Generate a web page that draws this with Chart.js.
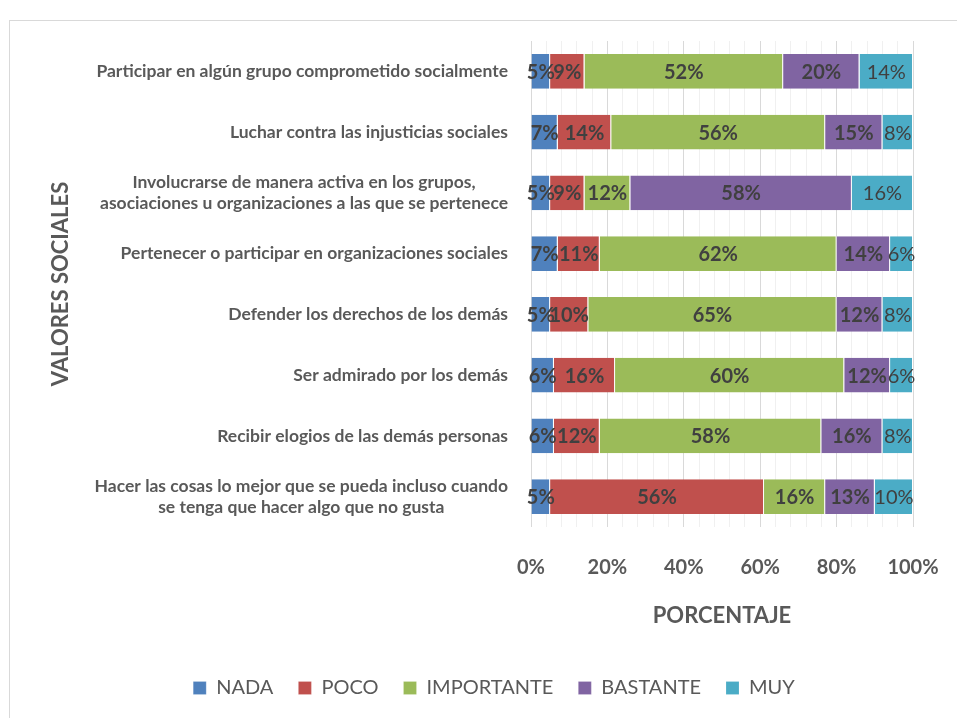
<!DOCTYPE html>
<html>
<head>
<meta charset="utf-8">
<script src="https://cdn.jsdelivr.net/npm/chart.js@4.4.1/dist/chart.umd.min.js"></script>
<style>
  body { margin: 0; overflow: hidden; background: #fff; }
  #marco { position: absolute; left: 9px; top: 20px; width: 1000px; height: 1000px; border: 1px solid #d9d9d9; }
  #caja { position: absolute; left: 0; top: 0; width: 957px; height: 718px; }
</style>
</head>
<body>
<div id="marco"></div>
<div id="caja"><canvas id="valores-sociales" width="957" height="718"></canvas></div>
<script>
/* VALORES SOCIALES - barras 100% apiladas */
const categorias = [
    'Participar en algún grupo comprometido socialmente',
    'Luchar contra las injusticias sociales',
    ['Involucrarse de manera activa en los grupos,', 'asociaciones u organizaciones a las que se pertenece'],
    'Pertenecer o participar en organizaciones sociales',
    'Defender los derechos de los demás',
    'Ser admirado por los demás',
    'Recibir elogios de las demás personas',
    ['Hacer las cosas lo mejor que se pueda incluso cuando', 'se tenga que hacer algo que no gusta']
];
const nada = [5, 7, 5, 7, 5, 6, 6, 5];
const poco = [9, 14, 9, 11, 10, 16, 12, 56];
const importante = [52, 56, 12, 62, 65, 60, 58, 16];
const bastante = [20, 15, 58, 14, 12, 12, 16, 13];
const muy = [14, 8, 16, 6, 8, 6, 8, 10];
const ticksX = [0, 20, 40, 60, 80, 100];

const fuente = 'Lato';
const gris = '#595959';

// etiquetas de las categorias: bloque alineado a la derecha, lineas centradas entre si
const etiquetasCategorias = {
    id: 'etiquetasCategorias',
    afterDraw(chart) {
        const ctx = chart.ctx;
        const escala = chart.scales.y;
        ctx.save();
        ctx.font = 'bold 17.5px ' + fuente;
        ctx.fillStyle = gris;
        ctx.textAlign = 'center';
        ctx.textBaseline = 'middle';
        categorias.forEach(function(cat, i) {
            const lineas = Array.isArray(cat) ? cat : [cat];
            const ancho = Math.max(...lineas.map(l => ctx.measureText(l).width));
            const cx = escala.right - 23 - ancho / 2;
            const cy = escala.getPixelForTick(i);
            lineas.forEach(function(l, j) {
                ctx.fillText(l, cx, cy + (j - (lineas.length - 1) / 2) * 21);
            });
        });
        ctx.restore();
    }
};

// porcentajes dentro de cada segmento
const etiquetasDatos = {
    id: 'etiquetasDatos',
    afterDatasetsDraw(chart) {
        const ctx = chart.ctx;
        ctx.save();
        ctx.fillStyle = '#404040';
        ctx.textAlign = 'center';
        ctx.textBaseline = 'middle';
        chart.data.datasets.forEach(function(ds, i) {
            const meta = chart.getDatasetMeta(i);
            ctx.font = (ds.label === 'MUY' ? '' : 'bold ') + '20px ' + fuente;
            meta.data.forEach(function(barra, j) {
                ctx.fillText(ds.data[j] + '%', (barra.x + barra.base) / 2, barra.y + 1);
            });
        });
        ctx.restore();
    }
};

const ctx_valores = document.getElementById('valores-sociales').getContext('2d');
const graficoValores = new Chart(ctx_valores, {
    type: 'bar',
    data: {
        labels: categorias,
        datasets: [{
            label: 'NADA',
            data: nada,
            backgroundColor: '#4F81BD'
        }, {
            label: 'POCO',
            data: poco,
            backgroundColor: '#C0504D'
        }, {
            label: 'IMPORTANTE',
            data: importante,
            backgroundColor: '#9BBB59'
        }, {
            label: 'BASTANTE',
            data: bastante,
            backgroundColor: '#8064A2'
        }, {
            label: 'MUY',
            data: muy,
            backgroundColor: '#4BACC6'
        }]
    },
    options: {
        indexAxis: 'y',
        responsive: false,
        animation: false,
        layout: {
            padding: { top: 41, left: 66, right: 35, bottom: 10 }
        },
        datasets: {
            bar: {
                barPercentage: 0.57,
                categoryPercentage: 1,
                borderColor: 'rgba(255,255,255,0.7)',
                borderWidth: { right: 1 },
                borderSkipped: false
            }
        },
        scales: {
            x: {
                stacked: true,
                min: 0,
                max: 100,
                ticks: {
                    stepSize: 4,
                    autoSkip: false,
                    maxRotation: 0,
                    padding: 29,
                    color: gris,
                    font: { family: fuente, size: 20, weight: 'bold' },
                    callback: v => ticksX.includes(v) ? v + '%' : ''
                },
                grid: {
                    drawTicks: false,
                    color: c => ticksX.includes(c.tick.value) ? '#d9d9d9' : '#f0f0f0'
                },
                border: { display: false },
                afterFit: function(escala) {
                    escala.height = 126;
                    escala.paddingRight = 44;
                },
                title: {
                    display: true,
                    text: 'PORCENTAJE',
                    color: gris,
                    font: { family: fuente, size: 22, weight: 'bold' },
                    padding: { top: 0, bottom: 24 }
                }
            },
            y: {
                stacked: true,
                grid: { display: false },
                border: { display: false },
                ticks: { display: false },
                afterFit: function(escala) { escala.width = 465; },
                title: {
                    display: true,
                    text: 'VALORES SOCIALES',
                    color: gris,
                    font: { family: fuente, size: 22, weight: 'bold' },
                    padding: { top: -18, bottom: 0 }
                }
            }
        },
        plugins: {
            legend: {
                position: 'bottom',
                labels: {
                    boxWidth: 13,
                    boxHeight: 13,
                    padding: 25,
                    color: gris,
                    font: { family: fuente, size: 20 }
                }
            },
            tooltip: { enabled: false }
        }
    },
    plugins: [etiquetasCategorias, etiquetasDatos]
});
</script>
</body>
</html>
